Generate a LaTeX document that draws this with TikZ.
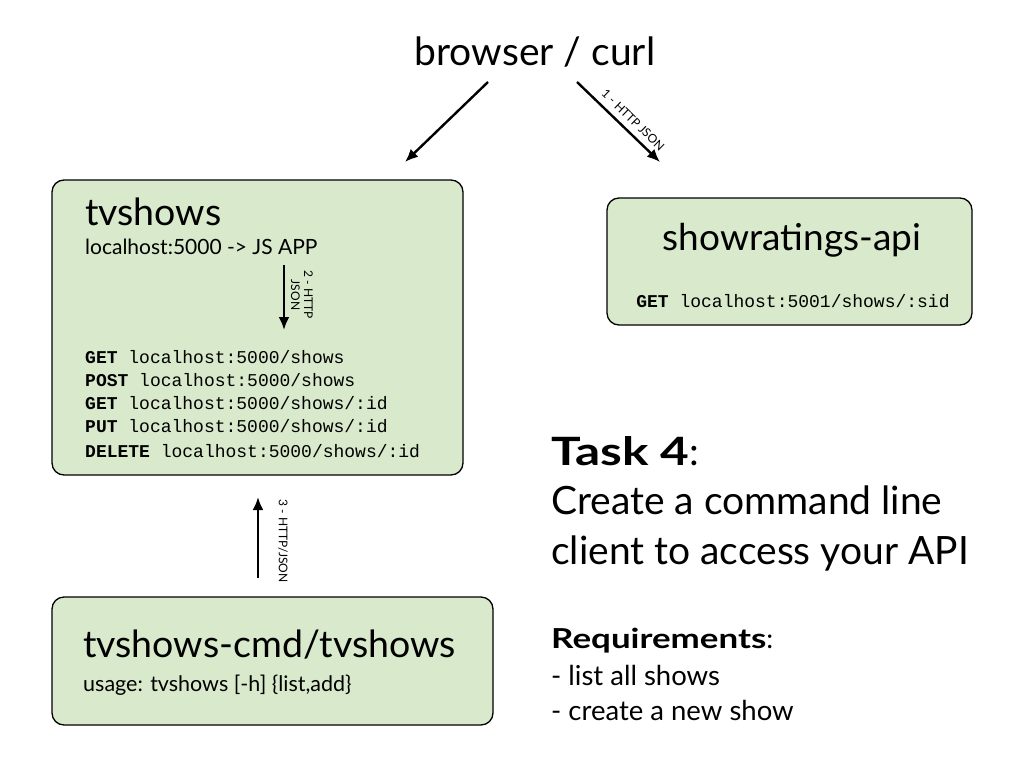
\documentclass[tikz,border=0pt]{standalone}
\usepackage{fontspec}
\setmainfont{Lato}
\setmonofont{Liberation Mono}
\newfontfamily\wideb[FakeStretch=1.27]{Lato}
\usetikzlibrary{arrows.meta}
\definecolor{boxfill}{RGB}{217,233,203}
\tikzset{
  box/.style={draw=black, line width=1.3pt, fill=boxfill, rounded corners=12pt},
  txt/.style={anchor=base west, inner sep=0pt},
  arr/.style={line width=2.4pt, -{Latex[length=13pt,width=11pt]}},
  lbl/.style={inner sep=0pt, font=\fontsize{12}{13}\selectfont},
  code/.style={txt, font=\fontsize{18}{20}\ttfamily},
}
\begin{document}
\begin{tikzpicture}[x=1pt,y=-1pt]
\useasboundingbox (0,0) rectangle (1024,768);
% top
\node[inner sep=0pt, font=\fontsize{39}{44}\selectfont] (browser) at (535,52) {browser / curl};
\coordinate (b1) at (488,82);
\coordinate (b2) at (577,82);
% boxes
\draw[box] (52,180) rectangle (463,475);
\node[inner sep=0pt, minimum width=411pt, minimum height=295pt] (tvshows) at (257.5,327.5) {};
\draw[box] (607,198) rectangle (972,325);
\node[inner sep=0pt, minimum width=365pt, minimum height=127pt] (ratings) at (789.5,261.5) {};
\draw[box] (52,597) rectangle (493,725);
\node[inner sep=0pt, minimum width=441pt, minimum height=128pt] (cmd) at (272.5,661) {};
\coordinate (t1) at (405,162);
\coordinate (r1) at (660,162);
\draw[arr] (b1) -- (t1);
\draw[arr] (b2) -- (r1) node[pos=0.58, sloped, above=6pt, lbl] (l1) {1 - HTTP JSON};
% tvshows content
\node[txt, font=\fontsize{37.5}{40}\selectfont] (tvt) at (85,225) {tvshows};
\node[txt, font=\fontsize{21}{24}\selectfont] (tvs) at (85,254) {localhost:5000 -> JS APP};
\coordinate (a2s) at (284,265);
\coordinate (a2e) at (284,330);
\draw[arr] (a2s) -- (a2e);
\node[lbl, rotate=-90, align=center] (l2) at (302,295) {2 - HTTP\\JSON};
\node[code] (c1) at (85,363) {\textbf{GET} localhost:5000/shows};
\node[code] (c2) at (85,386) {\textbf{POST} localhost:5000/shows};
\node[code] (c3) at (85,409) {\textbf{GET} localhost:5000/shows/:id};
\node[code] (c4) at (85,432) {\textbf{PUT} localhost:5000/shows/:id};
\node[code] (c5) at (85,457) {\textbf{DELETE} localhost:5000/shows/:id};
% showratings
\node[inner sep=0pt, anchor=base, font=\fontsize{37}{40}\selectfont] (rt) at (792,250) {showratings-api};
\node[inner sep=0pt, anchor=base, font=\fontsize{18}{20}\ttfamily] (rs) at (793,307) {\textbf{GET} localhost:5001/shows/:sid};
% cmd
\coordinate (a3s) at (258,578);
\coordinate (a3e) at (258,497);
\draw[arr] (a3s) -- (a3e);
\node[lbl, rotate=-90] (l3) at (283,541) {3 - HTTP/JSON};
\node[txt, font=\fontsize{37.5}{40}\selectfont] (ct) at (83,657) {tvshows-cmd/tvshows};
\node[txt, font=\fontsize{21.5}{24}\selectfont] (cs) at (83,691) {usage: tvshows [-h] \{list,add\}};
% task
\node[txt, font=\fontsize{39}{42}\selectfont] (task) at (551,465) {{\wideb\bfseries Task 4}:};
\node[txt, font=\fontsize{39}{42}\selectfont] (tl1) at (551,514) {Create a command line};
\node[txt, font=\fontsize{39}{42}\selectfont] (tl2) at (551,564) {client to access your API};
\node[txt, font=\fontsize{27.5}{30}\selectfont] (req) at (551,648) {{\wideb\bfseries Requirements}:};
\node[txt, font=\fontsize{27.5}{30}\selectfont] (r1t) at (551,685) {- list all shows};
\node[txt, font=\fontsize{27.5}{30}\selectfont] (r2t) at (551,720) {- create a new show};
\end{tikzpicture}
\end{document}
